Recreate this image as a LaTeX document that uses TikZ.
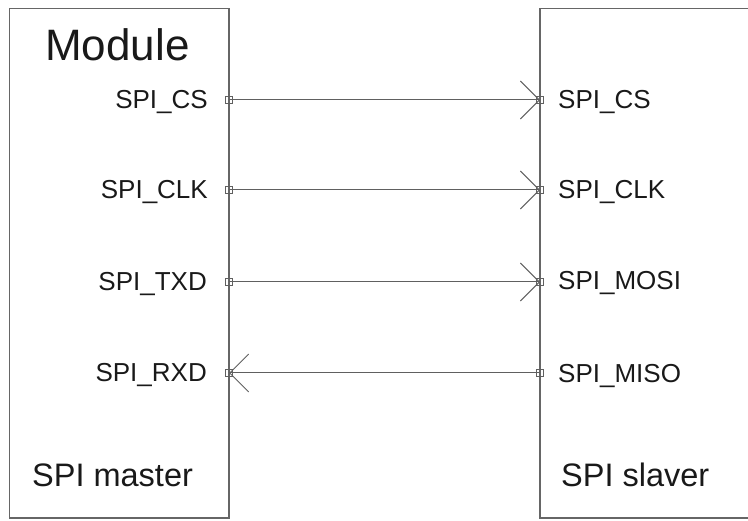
\documentclass[tikz,border=0pt]{standalone}
\usepackage{fontspec}
\setmainfont{Liberation Sans}
\usetikzlibrary{arrows.meta}
\definecolor{boxgray}{HTML}{666666}
\definecolor{wiregray}{HTML}{606060}
\begin{document}
\begin{tikzpicture}[x=1pt,y=-1pt,
  block/.style={draw=boxgray,line width=1.2pt},
  pin/.style={draw=wiregray,line width=0.8pt,minimum size=7pt,inner sep=0pt,outer sep=0pt},
  wire/.style={draw=wiregray,line width=1pt,-{Straight Barb[length=19pt,width=38pt,line width=0.9pt]}},
  plabel/.style={inner sep=0pt,font=\fontsize{26}{29}\selectfont,text=black!90},
  title/.style={inner sep=0pt,font=\fontsize{32.5}{36}\selectfont,text=black!90}]
\useasboundingbox (0,0) rectangle (748,521);
% blocks
\draw[block] (9.5,8.5) rectangle (229,518);
\draw[block] (540,8.5) -- (760,8.5);
\draw[block] (540,8.5) -- (540,518) -- (760,518);
% titles
\node[inner sep=0pt,anchor=base west,font=\fontsize{44}{48}\selectfont,text=black!90] (mod) at (45,61) {Module};
\node[title,anchor=base west] (mst) at (32,487) {SPI master};
\node[title,anchor=base west] (slv) at (561,487) {SPI slaver};
% pins left
\node[pin] (l1) at (229,100) {};
\node[pin] (l2) at (229,190) {};
\node[pin] (l3) at (229,282) {};
\node[pin] (l4) at (229,373) {};
% pins right
\node[pin] (r1) at (540,100) {};
\node[pin] (r2) at (540,190) {};
\node[pin] (r3) at (540,282) {};
\node[pin] (r4) at (540,373) {};
% labels
\node[plabel,anchor=base east] (tl1) at (208,109) {SPI\_CS};
\node[plabel,anchor=base east] (tl2) at (208,199) {SPI\_CLK};
\node[plabel,anchor=base east] (tl3) at (207,291) {SPI\_TXD};
\node[plabel,anchor=base east] (tl4) at (207,382) {SPI\_RXD};
\node[plabel,anchor=base west] (tr1) at (558,109) {SPI\_CS};
\node[plabel,anchor=base west] (tr2) at (558,199) {SPI\_CLK};
\node[plabel,anchor=base west] (tr3) at (558,290) {SPI\_MOSI};
\node[plabel,anchor=base west] (tr4) at (558,383) {SPI\_MISO};
% wires
\draw[wire] (l1.center) -- (r1.center);
\draw[wire] (l2.center) -- (r2.center);
\draw[wire] (l3.center) -- (r3.center);
\draw[wire] (r4.center) -- (l4.center);
\end{tikzpicture}
\end{document}
